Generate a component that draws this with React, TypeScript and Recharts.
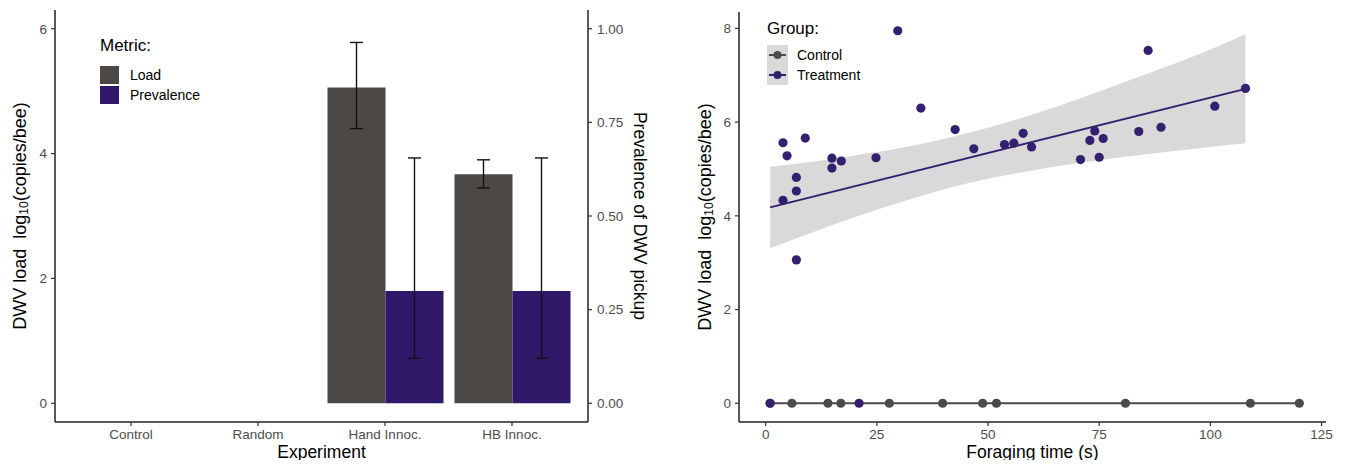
import {
  Area,
  Bar,
  ComposedChart,
  ErrorBar,
  Legend,
  Line,
  Scatter,
  XAxis,
  YAxis,
} from "recharts";

const FONT = "'Liberation Sans', Arial, sans-serif";

// left panel: DWV load / prevalence per experiment
const experiments = ["Control", "Random", "Hand Innoc.", "HB Innoc."];
const loadMean = [null, null, 5.06, 3.67];
const loadLow = [null, null, 4.4, 3.45];
const loadHigh = [null, null, 5.78, 3.9];
const prevMean = [null, null, 0.3, 0.3];
const prevLow = [null, null, 0.12, 0.12];
const prevHigh = [null, null, 0.655, 0.655];
const metrics = ["Load", "Prevalence"];
const metricColors = ["#4b4846", "#2f1868"];

// right panel: foraging time vs load
const ctrlTime = [1, 5.9, 14, 16.9, 27.8, 39.8, 48.8, 51.9, 80.9, 109, 120];
const ctrlLoad = [0, 0, 0, 0, 0, 0, 0, 0, 0, 0, 0];
const trtTime = [
  1, 21, 3.9, 4.8, 8.9, 14.9, 14.9, 17, 24.8, 6.9, 6.9, 3.9, 6.9, 29.7, 34.9,
  42.6, 46.8, 53.7, 55.8, 57.9, 59.8, 70.8, 72.9, 74, 75.9, 75, 83.9, 86,
  88.9, 101, 107.9,
];
const trtLoad = [
  0, 0, 5.56, 5.28, 5.66, 5.23, 5.02, 5.17, 5.24, 4.82, 4.53, 4.33, 3.06,
  7.95, 6.3, 5.84, 5.43, 5.52, 5.55, 5.76, 5.47, 5.2, 5.61, 5.81, 5.65, 5.25,
  5.8, 7.53, 5.89, 6.34, 6.72,
];
const fitTime = [1, 107.9];
const fitLoad = [4.18, 6.71];
const ctrlFitTime = [1, 120];
const ctrlFitLoad = [0, 0];
const bandTime = [1, 10, 20, 30, 40, 50, 60, 70, 80, 90, 100, 107.9];
const bandLow = [3.31, 3.63, 3.97, 4.28, 4.56, 4.79, 4.97, 5.12, 5.25, 5.36, 5.47, 5.55];
const bandHigh = [5.05, 5.15, 5.29, 5.44, 5.64, 5.88, 6.16, 6.48, 6.83, 7.18, 7.55, 7.88];
const groups = ["Control", "Treatment"];
const groupColors = ["#4a4a4a", "#33206e"];

const barData = experiments.map((name, i) => ({
  name,
  load: loadMean[i],
  loadErr:
    loadMean[i] == null ? null : [loadMean[i]! - loadLow[i]!, loadHigh[i]! - loadMean[i]!],
  prev: prevMean[i],
  prevErr:
    prevMean[i] == null ? null : [prevMean[i]! - prevLow[i]!, prevHigh[i]! - prevMean[i]!],
}));

const bandData = bandTime.map((x, i) => ({ x, band: [bandLow[i], bandHigh[i]] }));
const ctrlPoints = ctrlTime.map((x, i) => ({ x, y: ctrlLoad[i] }));
const trtPoints = trtTime.map((x, i) => ({ x, y: trtLoad[i] }));
const fitPoints = fitTime.map((x, i) => ({ x, y: fitLoad[i] }));
const ctrlFitPoints = ctrlFitTime.map((x, i) => ({ x, y: ctrlFitLoad[i] }));

const tickStyle = { fontSize: 13.5, fill: "#4d4d4d", fontFamily: FONT };
const axisLine = { stroke: "#222", strokeWidth: 1.5 };
const tickLine = { stroke: "#333", strokeWidth: 1.2 };

function LoadLabel({ viewBox, dx }: any) {
  const x = viewBox.x + dx;
  const y = viewBox.y + viewBox.height / 2;
  return (
    <text
      x={x}
      y={y}
      transform={`rotate(-90 ${x} ${y})`}
      textAnchor="middle"
      dominantBaseline="central"
      fontSize={18}
      fontFamily={FONT}
      fill="#000"
    >
      <tspan>{"DWV load\u00a0\u00a0log"}</tspan>
      <tspan fontSize={12} dy={4}>
        10
      </tspan>
      <tspan dy={-4}>(copies/bee)</tspan>
    </text>
  );
}

function PrevLabel({ viewBox }: any) {
  const x = viewBox.x + 52;
  const y = viewBox.y + viewBox.height / 2;
  return (
    <text
      x={x}
      y={y}
      transform={`rotate(90 ${x} ${y})`}
      textAnchor="middle"
      dominantBaseline="central"
      fontSize={17.5}
      fontFamily={FONT}
      fill="#000"
    >
      Prevalence of DWV pickup
    </text>
  );
}

function XTitle({ viewBox, text }: any) {
  return (
    <text
      x={viewBox.x + viewBox.width / 2}
      y={viewBox.y + 36}
      textAnchor="middle"
      fontSize={17.5}
      fontFamily={FONT}
      fill="#000"
    >
      {text}
    </text>
  );
}

function MetricLegend() {
  return (
    <div style={{ fontFamily: FONT, color: "#000" }}>
      <div style={{ fontSize: 17, lineHeight: "20px", marginBottom: 9 }}>Metric:</div>
      {metrics.map((m, i) => (
        <div key={m} style={{ display: "flex", alignItems: "center", height: 20 }}>
          <span
            style={{
              display: "inline-block",
              width: 19,
              height: 18,
              background: metricColors[i],
              marginRight: 11,
            }}
          />
          <span style={{ fontSize: 14 }}>{m}</span>
        </div>
      ))}
    </div>
  );
}

function GroupLegend() {
  return (
    <div style={{ fontFamily: FONT, color: "#000" }}>
      <div style={{ fontSize: 17, lineHeight: "20px", marginBottom: 6 }}>Group:</div>
      {groups.map((g, i) => (
        <div key={g} style={{ display: "flex", alignItems: "center", height: 20 }}>
          <svg width={21} height={20} style={{ background: "#d9d9d9", marginRight: 9 }}>
            <line x1={2} x2={19} y1={10} y2={10} stroke={groupColors[i]} strokeWidth={2} />
            <circle cx={10.5} cy={10} r={4} fill={groupColors[i]} />
          </svg>
          <span style={{ fontSize: 14 }}>{g}</span>
        </div>
      ))}
    </div>
  );
}

export default function App() {
  return (
    <div style={{ position: "relative", width: 1345, height: 468, margin: -8, background: "#fff" }}>
      <div style={{ position: "absolute", left: 0, top: 0 }}>
        <ComposedChart
          width={680}
          height={468}
          data={barData}
          margin={{ top: 10, right: 42, bottom: 0, left: 15 }}
          barCategoryGap={6}
          barGap={0}
        >
          <XAxis
            dataKey="name"
            height={46}
            padding={{ left: 12.5, right: 12.5 }}
            tick={tickStyle}
            tickSize={4}
            tickMargin={3}
            axisLine={axisLine}
            tickLine={tickLine}
            label={<XTitle text="Experiment" />}
          />
          <YAxis
            yAxisId="load"
            width={40}
            domain={[-0.3, 6.3]}
            ticks={[0, 2, 4, 6]}
            allowDataOverflow
            tick={tickStyle}
            tickSize={4}
            tickMargin={4}
            axisLine={axisLine}
            tickLine={tickLine}
            label={<LoadLabel dx={5} />}
          />
          <YAxis
            yAxisId="prev"
            orientation="right"
            width={50}
            domain={[-0.05, 1.05]}
            ticks={[0, 0.25, 0.5, 0.75, 1]}
            tickFormatter={(v: number) => v.toFixed(2)}
            allowDataOverflow
            tick={tickStyle}
            tickSize={4}
            tickMargin={5}
            axisLine={axisLine}
            tickLine={tickLine}
            label={<PrevLabel />}
          />
          <Legend
            layout="horizontal"
            verticalAlign="middle"
            align="center"
            content={() => <MetricLegend />}
            wrapperStyle={{ left: 100, top: 36, width: "auto", height: "auto" }}
          />
          <Bar yAxisId="load" dataKey="load" name="Load" fill={metricColors[0]} isAnimationActive={false}>
            <ErrorBar dataKey="loadErr" width={6.5} stroke="#111" strokeWidth={1.4} />
          </Bar>
          <Bar yAxisId="prev" dataKey="prev" name="Prevalence" fill={metricColors[1]} isAnimationActive={false}>
            <ErrorBar dataKey="prevErr" width={6.5} stroke="#111" strokeWidth={1.4} />
          </Bar>
        </ComposedChart>
      </div>

      <div style={{ position: "absolute", left: 680, top: 0 }}>
        <ComposedChart
          width={665}
          height={468}
          data={bandData}
          margin={{ top: 12, right: 19, bottom: 0, left: 19 }}
        >
          <XAxis
            type="number"
            dataKey="x"
            domain={[-6, 126]}
            ticks={[0, 25, 50, 75, 100, 125]}
            allowDataOverflow
            height={46}
            tick={tickStyle}
            tickSize={4}
            tickMargin={3}
            axisLine={axisLine}
            tickLine={tickLine}
            label={<XTitle text="Foraging time (s)" />}
          />
          <YAxis
            type="number"
            width={40}
            domain={[-0.4, 8.35]}
            ticks={[0, 2, 4, 6, 8]}
            allowDataOverflow
            tick={tickStyle}
            tickSize={4}
            tickMargin={4}
            axisLine={axisLine}
            tickLine={tickLine}
            label={<LoadLabel dx={6} />}
          />
          <Legend
            layout="horizontal"
            verticalAlign="middle"
            align="center"
            content={() => <GroupLegend />}
            wrapperStyle={{ left: 87, top: 19, width: "auto", height: "auto" }}
          />
          <Area
            dataKey="band"
            type="monotone"
            fill="#d9d9d9"
            fillOpacity={1}
            stroke="none"
            isAnimationActive={false}
          />
          <Line
            data={ctrlFitPoints}
            dataKey="y"
            stroke={groupColors[0]}
            strokeWidth={2}
            dot={false}
            isAnimationActive={false}
          />
          <Line
            data={fitPoints}
            dataKey="y"
            stroke={groupColors[1]}
            strokeWidth={2}
            dot={false}
            isAnimationActive={false}
          />
          <Scatter
            data={ctrlPoints}
            dataKey="y"
            fill={groupColors[0]}
            isAnimationActive={false}
            shape={(p: any) => <circle cx={p.cx} cy={p.cy} r={4.6} fill={groupColors[0]} />}
          />
          <Scatter
            data={trtPoints}
            dataKey="y"
            fill={groupColors[1]}
            isAnimationActive={false}
            shape={(p: any) => <circle cx={p.cx} cy={p.cy} r={4.6} fill={groupColors[1]} />}
          />
        </ComposedChart>
      </div>
    </div>
  );
}
